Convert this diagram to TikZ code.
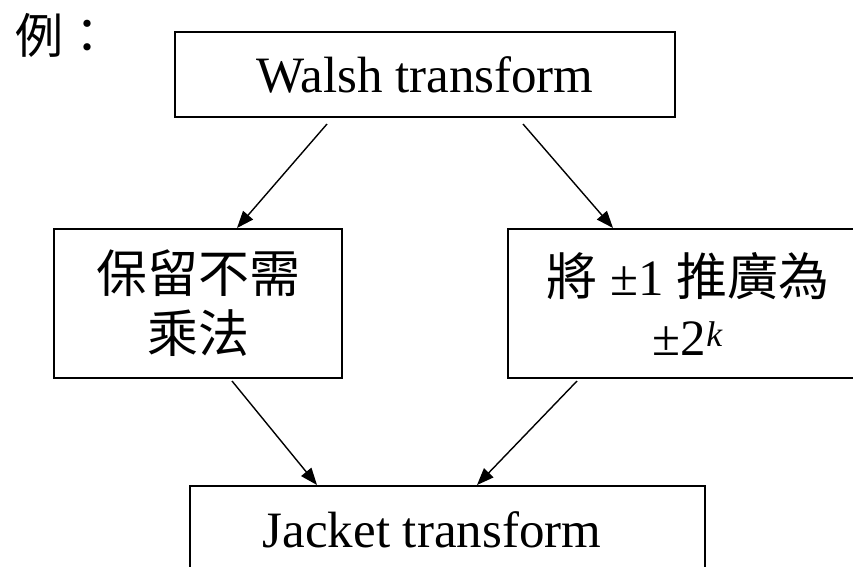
\documentclass[tikz,border=0pt]{standalone}
\usepackage{fontspec}
\setmainfont{Liberation Serif}
\newfontfamily\cjk{Noto Sans CJK TC}
\usetikzlibrary{arrows.meta}

\tikzset{
  blockbox/.style={draw, line width=2pt, inner sep=0pt, align=center,
    font=\fontsize{51}{60}\selectfont},
  flowarrow/.style={line width=1.4pt, -{Triangle[length=17pt,width=13pt]}},
}

\begin{document}
\begin{tikzpicture}[x=1pt, y=-1pt]
        
        \useasboundingbox (0,0) rectangle (853,566);
        \clip (0,0) rectangle (853,566);
        
        % Label in the corner
        \node[font=\fontsize{48}{56}\selectfont\cjk, anchor=west] (ex) at (12,35) {例：};
        
        % The four boxes
        \node[blockbox, minimum width=500, minimum height=85] (walsh) at (425,74.5) {Walsh transform};
        \node[blockbox, minimum width=288, minimum height=149, font=\fontsize{51}{60}\selectfont\cjk] (keep) at (198,303.5) {保留不需\\乘法};
        \node[blockbox, minimum width=400, minimum height=149] (scale) at (708,303.5) {{\cjk 將} ±1 {\cjk 推廣為}\hspace*{40pt}\\±2\textsuperscript{\textit{k}}\hspace*{40pt}};
        \node[blockbox, minimum width=515, minimum height=88] (jacket) at (447.5,530) {Jacket transform\hspace{31pt}};
        
        % The arrows
        \draw[flowarrow] ([xshift=-98,yshift=-6]walsh.south) -- ([xshift=39]keep.north);
        \draw[flowarrow] ([xshift=98,yshift=-6]walsh.south) -- ([xshift=-95]scale.north);
        \draw[flowarrow] ([xshift=34,yshift=-2]keep.south) -- ([xshift=-130.5]jacket.north);
        \draw[flowarrow] ([xshift=-131,yshift=-2]scale.south) -- ([xshift=29.5]jacket.north);
        
        \end{tikzpicture}
\end{document}
